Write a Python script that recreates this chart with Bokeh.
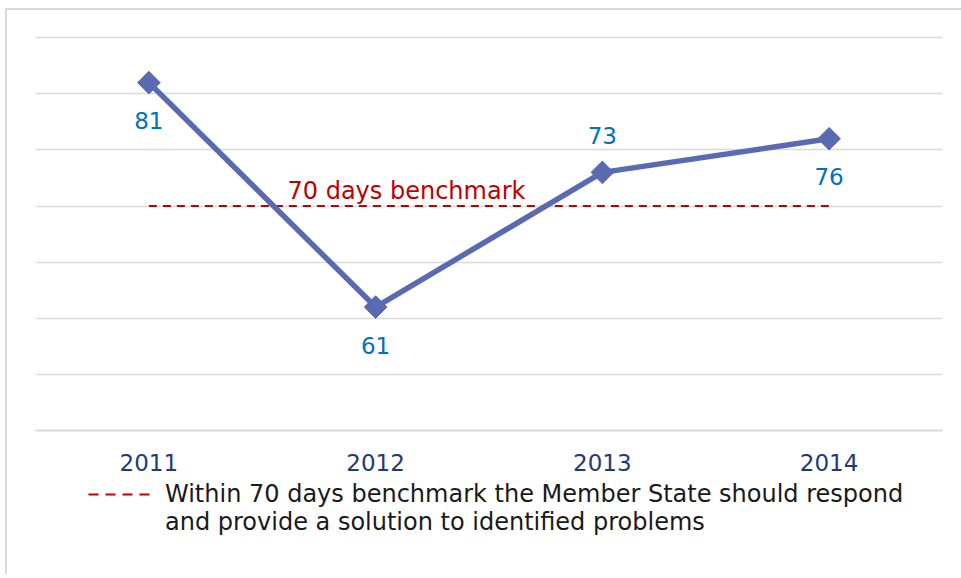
from bokeh.plotting import figure
from bokeh.layouts import column
from bokeh.models import ColumnDataSource, Range1d, Label, Legend, LegendItem, LabelSet
from bokeh.core.properties import value
from bokeh.embed import file_html
from bokeh.resources import INLINE
import math

years = ["2011", "2012", "2013", "2014"]
days = [81, 61, 73, 76]
benchmark = [70, 70, 70, 70]
label_above = [False, False, True, False]
benchmark_label = "70 days benchmark"
legend_lines = ["Within 70 days benchmark the Member State should respond",
                "and provide a solution to identified problems"]

FONT = "DejaVu Sans"

p = figure(width=954, height=466, x_range=years, y_range=Range1d(50, 85.2),
           output_backend="svg", toolbar_location=None,
           min_border_left=28, min_border_right=19, min_border_top=25, min_border_bottom=46)
p.outline_line_color = None
p.background_fill_color = "white"

p.yaxis.visible = False
p.ygrid.ticker = [55, 60, 65, 70, 75, 80, 85]
p.ygrid.grid_line_color = "#d9d9d9"
p.ygrid.grid_line_width = 1.5
p.xgrid.grid_line_color = None

xa = p.xaxis[0]
xa.axis_line_color = "#d9d9d9"
xa.axis_line_width = 2
xa.major_tick_line_color = None
xa.minor_tick_line_color = None
xa.major_label_text_font = FONT
xa.major_label_text_font_size = "23px"
xa.major_label_text_color = "#1f3a78"
xa.major_label_standoff = 17

src = ColumnDataSource(dict(x=years, y=days, b=benchmark,
                            t=[str(v) for v in days],
                            dy=[37 if a else -38 for a in label_above]))

p.line("x", "b", source=src, line_color="#c00000", line_width=2, line_dash="8 6")
p.line("x", "y", source=src, line_color="#5a6ab2", line_width=5.5)
p.scatter("x", "y", source=src, marker="square", size=16, angle=math.pi / 4,
          fill_color="#5a6ab2", line_color="#5a6ab2")

labels = LabelSet(x="x", y="y", text="t", source=src, y_offset="dy",
                  text_align="center", text_baseline="middle",
                  text_font=value(FONT), text_font_size="23px", text_color="#0070c0")
p.add_layout(labels)

p.add_layout(Label(x=1.636, y=70, y_offset=15, text=benchmark_label, text_align="center",
                   text_baseline="middle", text_font=FONT, text_font_size="24px",
                   text_color="#c00000"))

# legend panel below the chart
p2 = figure(width=954, height=98, x_range=Range1d(0, 1), y_range=Range1d(0, 1),
            output_backend="svg", toolbar_location=None,
            min_border_left=28, min_border_right=19, min_border_top=0, min_border_bottom=0)
p2.axis.visible = False
p2.grid.visible = False
p2.outline_line_color = None
legend_src = ColumnDataSource(dict(x=[-10, -9], y=[-10, -10]))
leg_r = p2.line("x", "y", source=legend_src, line_color="#c00000", line_width=2, line_dash="10 7")
leg_blank = p2.line("x", "y", source=legend_src, line_alpha=0)
legend = Legend(items=[LegendItem(label=legend_lines[0], renderers=[leg_r]),
                       LegendItem(label=legend_lines[1], renderers=[leg_blank])],
                location=(53, 38), orientation="vertical",
                glyph_width=62, glyph_height=28, label_height=28, label_standoff=15, spacing=0,
                label_text_font=FONT, label_text_font_size="24px", label_text_color="#1a1a1a",
                background_fill_alpha=0, border_line_color=None, padding=0, margin=0)
p2.add_layout(legend, "center")

layout = column(p, p2, spacing=0,
                styles={"margin-top": "8px", "margin-left": "5px",
                        "border-top": "2px solid #d9d9d9", "border-left": "2px solid #d9d9d9"})
open("out.html", "w").write(file_html(layout, INLINE))
